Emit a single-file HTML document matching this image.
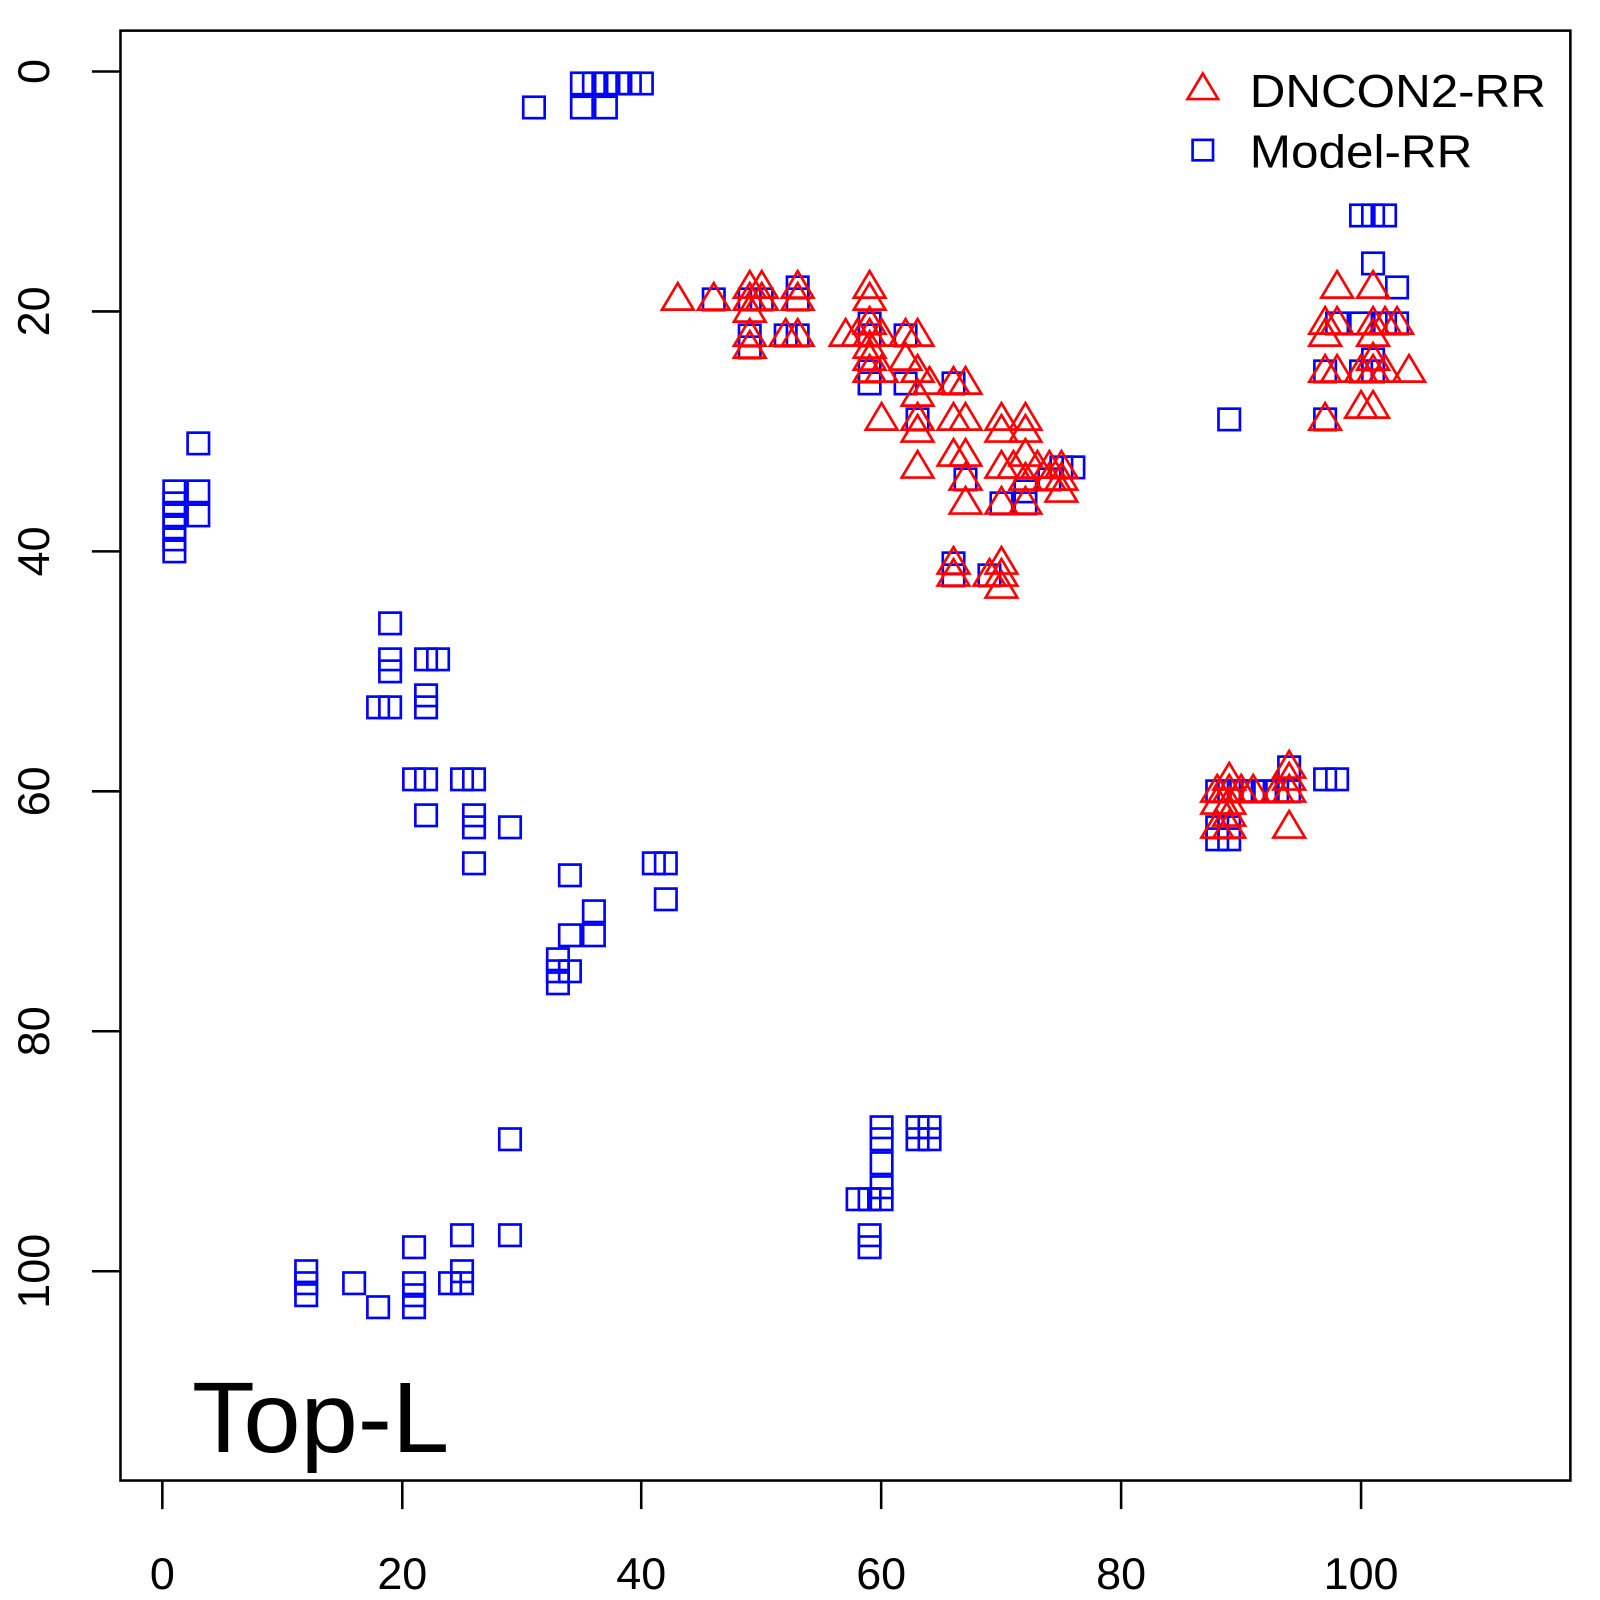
<!DOCTYPE html>
<html><head><meta charset="utf-8"><style>html,body{margin:0;padding:0;background:#fff}svg{display:block}text{font-family:"Liberation Sans",sans-serif}</style></head>
<body>
<svg id="s" width="1600" height="1600" viewBox="0 0 1567 1567" xmlns="http://www.w3.org/2000/svg">
<rect x="0" y="0" width="1567" height="1567" fill="#fff"/>
<rect x="118" y="30" width="1420" height="1420" fill="none" stroke="#000" stroke-width="2.5"/>
<g stroke="#000" stroke-width="2.5">
<line x1="159" y1="1450" x2="159" y2="1478"/><line x1="394" y1="1450" x2="394" y2="1478"/><line x1="628" y1="1450" x2="628" y2="1478"/><line x1="863" y1="1450" x2="863" y2="1478"/><line x1="1098" y1="1450" x2="1098" y2="1478"/><line x1="1333" y1="1450" x2="1333" y2="1478"/>
<line x1="118" y1="70" x2="90" y2="70"/><line x1="118" y1="305" x2="90" y2="305"/><line x1="118" y1="540" x2="90" y2="540"/><line x1="118" y1="775" x2="90" y2="775"/><line x1="118" y1="1010" x2="90" y2="1010"/><line x1="118" y1="1245" x2="90" y2="1245"/>
</g>
<g font-size="44" text-anchor="middle" fill="#000">
<text x="159" y="1556">0</text><text x="394" y="1556">20</text><text x="628" y="1556">40</text><text x="863" y="1556">60</text><text x="1098" y="1556">80</text><text x="1333" y="1556">100</text>
<text transform="translate(48,70) rotate(-90)">0</text>
<text transform="translate(48,305) rotate(-90)">20</text>
<text transform="translate(48,540) rotate(-90)">40</text>
<text transform="translate(48,775) rotate(-90)">60</text>
<text transform="translate(48,1010) rotate(-90)">80</text>
<text transform="translate(48,1245) rotate(-90)">100</text>
</g>
<g id="pts" fill="none" stroke-width="2.6"></g>
<polygon points="1178,72 1193,97 1163,97" fill="none" stroke="#f00" stroke-width="2.6"/>
<rect x="1168" y="137" width="20" height="20" fill="none" stroke="#00f" stroke-width="2.6"/>
<text x="1224" y="105" font-size="45" textLength="290" lengthAdjust="spacingAndGlyphs">DNCON2-RR</text>
<text x="1224" y="164" font-size="45" textLength="218" lengthAdjust="spacingAndGlyphs">Model-RR</text>
<text x="188" y="1422" font-size="98" textLength="252" lengthAdjust="spacingAndGlyphs">Top-L</text>
</svg>
<script>
var sq=[[31,3],[35,1],[36,1],[37,1],[38,1],[39,1],[40,1],[35,3],[37,3],
[3,31],[1,35],[3,35],[1,36],[1,37],[3,37],[1,38],[1,39],[1,40],
[19,46],[19,49],[19,50],[18,53],[19,53],[22,49],[23,49],[22,52],[22,53],[21,59],[22,59],[22,62],[25,59],[26,59],[26,62],[26,63],[26,66],[29,63],[34,67],[41,66],[42,66],[42,69],[36,70],[34,72],[36,72],[33,74],[33,75],[34,75],[33,76],
[29,89],[29,97],[25,97],[25,100],[24,101],[25,101],[21,98],[21,101],[21,102],[21,103],[16,101],[18,103],[12,100],[12,101],[12,102],
[60,88],[60,89],[60,91],[60,93],[60,94],[58,94],[59,94],[59,97],[59,98],[63,88],[64,88],[63,89],[64,89],
[88,60],[89,60],[90,60],[91,60],[92,60],[93,60],[94,60],[94,58],[88,63],[89,63],[88,64],[89,64],[97,59],[98,59],
[100,12],[101,12],[102,12],[101,16],[103,18],[100,21],[102,21],[103,21],[101,24],[97,25],[100,25],[101,25],[97,29],[89,29],[98,21],
[46,19],[49,19],[50,19],[53,18],[53,19],[49,22],[49,23],[52,22],[53,22],[59,21],[59,22],[59,25],[59,26],[62,22],[62,26],[63,29],[66,26],[66,41],[66,42],[69,42],[67,34],[70,36],[72,36],[72,35],[76,33],[75,33],[74,34]];
var tr=[[43,19],[46,19],[49,18],[50,18],[49,19],[49,20],[50,19],[49,22],[49,23],[52,22],[53,22],[53,18],[53,19],[59,18],[59,19],[59,21],[59,22],[59,23],[57,22],[58,22],[60,22],[59,24],[59,25],[60,25],[62,22],[63,22],[62,24],[63,25],[63,27],[64,26],[66,26],[67,26],[60,29],[63,29],[63,30],[63,33],[66,29],[67,29],[66,32],[67,32],[67,34],[67,36],[70,29],[72,29],[70,30],[72,30],[70,33],[71,33],[72,32],[73,33],[72,34],[74,33],[75,33],[70,36],[72,36],[74,34],[75,34],[75,35],[66,41],[66,42],[69,42],[70,41],[70,42],[70,43],
[98,18],[101,18],[97,21],[98,21],[97,22],[101,21],[102,21],[103,21],[97,25],[98,25],[100,25],[101,24],[101,25],[102,25],[104,25],[100,28],[101,28],[101,22],[97,29],
[88,60],[88,61],[89,59],[89,60],[89,61],[89,62],[88,63],[89,63],[90,60],[91,60],[93,60],[94,59],[94,60],[94,58],[94,63]];
var g=document.getElementById('pts'),h='';
function X(x){return 159+11.74*x}function Y(y){return 70+11.75*y}
sq.forEach(function(p){var x=X(p[0]),y=Y(p[1]);h+='<rect x="'+(x-10.5)+'" y="'+(y-10.5)+'" width="21" height="21" stroke="#00f"/>';});
tr.forEach(function(p){var x=X(p[0]),y=Y(p[1]);h+='<polygon points="'+x+','+(y-16)+' '+(x+15.5)+','+(y+10)+' '+(x-15.5)+','+(y+10)+'" stroke="#f00"/>';});
g.innerHTML=h;
</script>
</body></html>
